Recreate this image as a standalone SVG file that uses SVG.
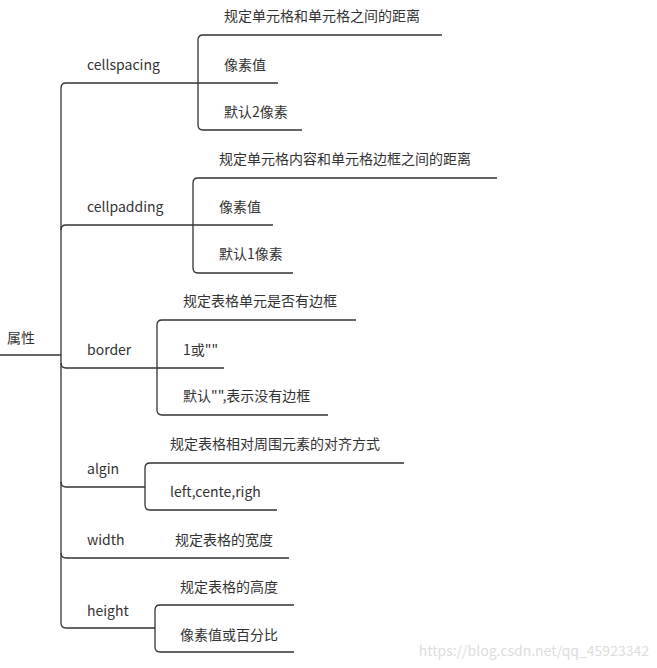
<svg xmlns="http://www.w3.org/2000/svg" width="657" height="668" viewBox="0 0 657 668">
<style>
text{font-family:"Noto Sans CJK SC","Noto Sans",sans-serif;font-size:14px;fill:#333}
.l{fill:none;stroke:#333;stroke-width:1.3}
.wm{font-size:14px;fill:#ddd}
</style>
<rect width="657" height="668" fill="#fff"/>
<g id="connectors">
<path class="l" d="M0 355H61"/>
<path class="l" d="M198 83H66Q61 83 61 88V623Q61 628 66 628H155"/>
<path class="l" d="M61 230Q61 225 66 225H193"/>
<path class="l" d="M61 363Q61 368 66 368H157"/>
<path class="l" d="M61 482Q61 487 66 487H145"/>
<path class="l" d="M61 553Q61 558 66 558H289"/>
<path class="l" d="M442 35H203Q198 35 198 40V125Q198 130 203 130H302M198 83H278"/>
<path class="l" d="M497 178H198Q193 178 193 183V268Q193 273 198 273H293M193 225H273"/>
<path class="l" d="M356 320H162Q157 320 157 325V410Q157 415 162 415H328M157 368H224"/>
<path class="l" d="M404 463H150Q145 463 145 468V505Q145 510 150 510H277"/>
<path class="l" d="M294 605H160Q155 605 155 610V647Q155 652 160 652H294"/>
</g>
<g id="root"><text x="7" y="343">属性</text></g>
<g id="cellspacing"><text x="87" y="70">cellspacing</text>
<text x="224" y="21">规定单元格和单元格之间的距离</text><text x="224" y="70">像素值</text><text x="224" y="117">默认2像素</text></g>
<g id="cellpadding"><text x="87" y="212">cellpadding</text>
<text x="219" y="164">规定单元格内容和单元格边框之间的距离</text><text x="219" y="212">像素值</text><text x="219" y="259">默认1像素</text></g>
<g id="border"><text x="87" y="355">border</text>
<text x="183" y="306">规定表格单元是否有边框</text><text x="183" y="355">1或""</text><text x="183" y="401">默认"",表示没有边框</text></g>
<g id="align"><text x="87" y="474">algin</text>
<text x="170" y="449">规定表格相对周围元素的对齐方式</text><text x="170" y="497">left,cente,righ</text></g>
<g id="width"><text x="87" y="545">width</text><text x="175" y="545">规定表格的宽度</text></g>
<g id="height"><text x="87" y="616">height</text>
<text x="180" y="592">规定表格的高度</text><text x="180" y="640">像素值或百分比</text></g>
<text class="wm" x="649" y="656" text-anchor="end">https://blog.csdn.net/qq_45923342</text>
</svg>
